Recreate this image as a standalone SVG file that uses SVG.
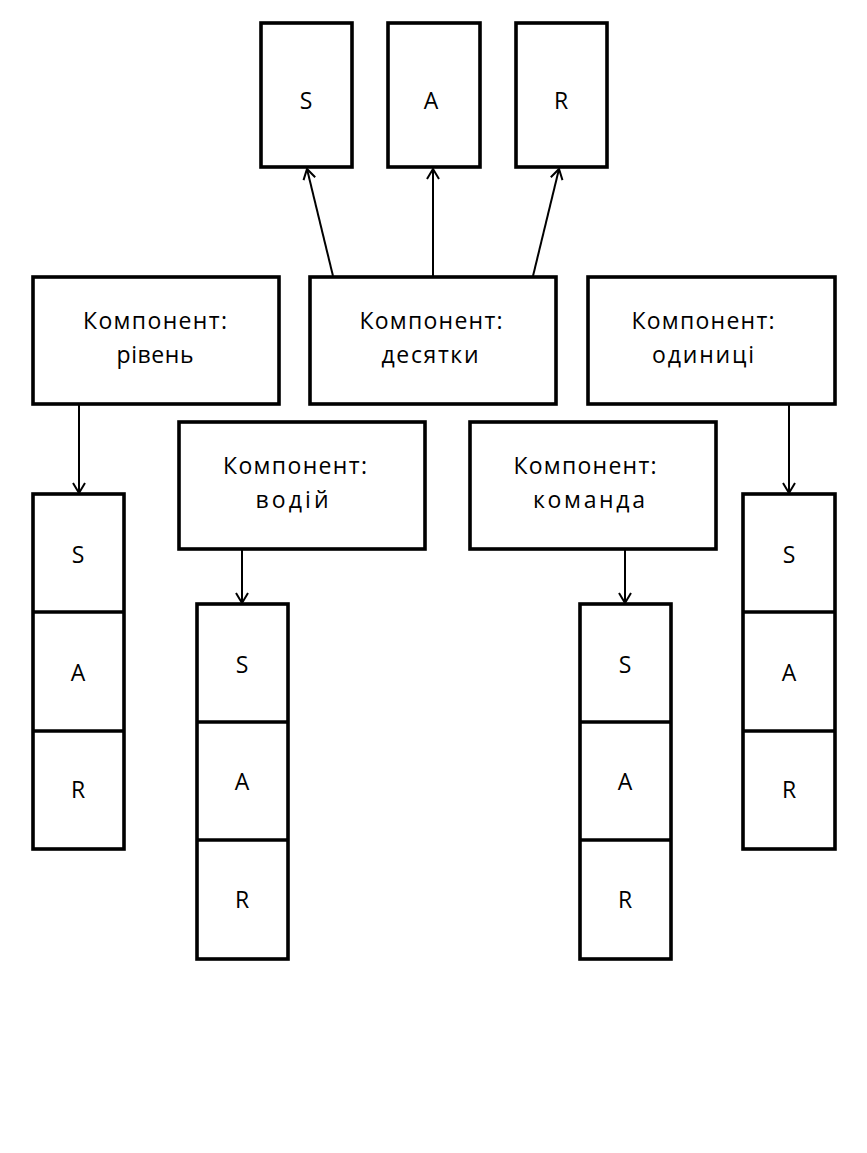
<svg xmlns="http://www.w3.org/2000/svg" width="867" height="1153" viewBox="0 0 867 1153">
<style>
.box{fill:#fff;stroke:#000;stroke-width:3.6}
.div{stroke:#000;stroke-width:3.6}
.t{font-family:"Open Sans","DejaVu Sans","Liberation Sans",sans-serif;font-size:23px;fill:#000;text-anchor:middle}
.c{fill:none;stroke:#000;stroke-width:2;marker-end:url(#ah)}
</style>
<defs>
<marker id="ah" markerUnits="userSpaceOnUse" viewBox="0 0 12 14" refX="11" refY="7" markerWidth="12" markerHeight="14" orient="auto">
<path d="M1,1 L11,7 L1,13" fill="none" stroke="#000" stroke-width="2"/>
</marker>
</defs>
<rect width="867" height="1153" fill="#fff"/>
<g id="connectors">
<line class="c" x1="333" y1="276" x2="307" y2="169"/>
<line class="c" x1="433" y1="276" x2="433" y2="169"/>
<line class="c" x1="533" y1="276" x2="559" y2="169"/>
<line class="c" x1="79" y1="404" x2="79" y2="493"/>
<line class="c" x1="242" y1="549" x2="242" y2="603"/>
<line class="c" x1="625" y1="549" x2="625" y2="603"/>
<line class="c" x1="789" y1="404" x2="789" y2="493"/>
</g>
<g id="top-S"><rect class="box" x="261" y="23" width="91" height="144"/><text class="t" x="306" y="109">S</text></g>
<g id="top-A"><rect class="box" x="388" y="23" width="92" height="144"/><text class="t" x="431" y="109">A</text></g>
<g id="top-R"><rect class="box" x="516" y="23" width="91" height="144"/><text class="t" x="561" y="109">R</text></g>
<g id="comp-riven"><rect class="box" x="33" y="277" width="246" height="127"/>
<text class="t" x="155" y="329" textLength="144" lengthAdjust="spacing">Компонент:</text>
<text class="t" x="155" y="363" textLength="77" lengthAdjust="spacing">рівень</text></g>
<g id="comp-desyatky"><rect class="box" x="310" y="277" width="246" height="127"/>
<text class="t" x="431" y="329" textLength="143" lengthAdjust="spacing">Компонент:</text>
<text class="t" x="430" y="363" textLength="97" lengthAdjust="spacing">десятки</text></g>
<g id="comp-odynytsi"><rect class="box" x="588" y="277" width="247" height="127"/>
<text class="t" x="703" y="329" textLength="143" lengthAdjust="spacing">Компонент:</text>
<text class="t" x="703" y="363" textLength="102" lengthAdjust="spacing">одиниці</text></g>
<g id="comp-vodiy"><rect class="box" x="179" y="422" width="246" height="127"/>
<text class="t" x="295" y="474" textLength="144" lengthAdjust="spacing">Компонент:</text>
<text class="t" x="292" y="508" textLength="73" lengthAdjust="spacing">водій</text></g>
<g id="comp-komanda"><rect class="box" x="470" y="422" width="246" height="127"/>
<text class="t" x="585" y="474" textLength="143" lengthAdjust="spacing">Компонент:</text>
<text class="t" x="589" y="508" textLength="112" lengthAdjust="spacing">команда</text></g>
<g id="stack-riven"><rect class="box" x="33" y="494" width="91" height="355"/>
<line class="div" x1="33" y1="612" x2="124" y2="612"/><line class="div" x1="33" y1="731" x2="124" y2="731"/>
<text class="t" x="78" y="563">S</text><text class="t" x="78" y="681">A</text><text class="t" x="78" y="798">R</text></g>
<g id="stack-vodiy"><rect class="box" x="197" y="604" width="91" height="355"/>
<line class="div" x1="197" y1="722" x2="288" y2="722"/><line class="div" x1="197" y1="840" x2="288" y2="840"/>
<text class="t" x="242" y="673">S</text><text class="t" x="242" y="790">A</text><text class="t" x="242" y="908">R</text></g>
<g id="stack-komanda"><rect class="box" x="580" y="604" width="91" height="355"/>
<line class="div" x1="580" y1="722" x2="671" y2="722"/><line class="div" x1="580" y1="840" x2="671" y2="840"/>
<text class="t" x="625" y="673">S</text><text class="t" x="625" y="790">A</text><text class="t" x="625" y="908">R</text></g>
<g id="stack-odynytsi"><rect class="box" x="743" y="494" width="92" height="355"/>
<line class="div" x1="743" y1="612" x2="835" y2="612"/><line class="div" x1="743" y1="731" x2="835" y2="731"/>
<text class="t" x="789" y="563">S</text><text class="t" x="789" y="681">A</text><text class="t" x="789" y="798">R</text></g>
</svg>
